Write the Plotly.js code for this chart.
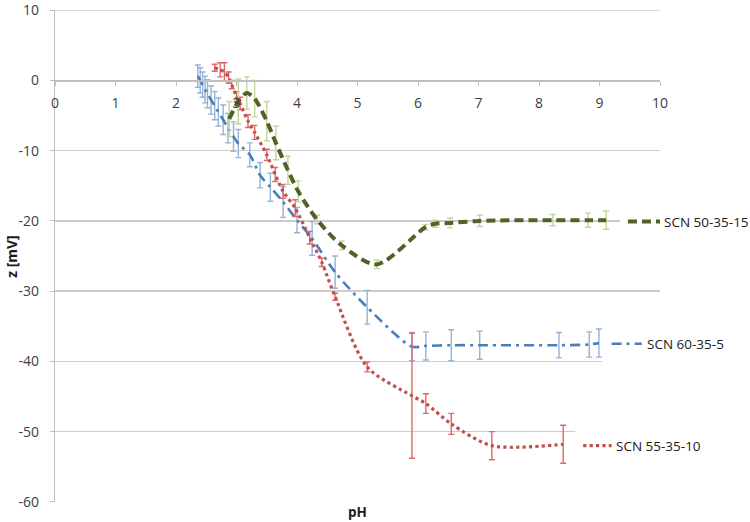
<!DOCTYPE html>
<html>
<head>
<meta charset="utf-8">
<script src="https://cdn.plot.ly/plotly-3.0.1.min.js"></script>
<style>
  html, body { margin: 0; padding: 0; background: #fff; }
  #plot { width: 750px; height: 522px; }
</style>
</head>
<body>
<div id="plot"></div>
<script>
// series names (data labels at line ends)
const seriesNames = ["SCN 50-35-15", "SCN 60-35-5", "SCN 55-35-10"];

// SCN 50-35-15 (green, dashed)
const phGreen  = [2.88, 3.03, 3.17, 3.30, 3.50, 3.65, 3.85, 4.02, 4.33, 4.74, 5.32, 6.12, 6.28, 6.53, 7.02, 8.23, 8.81, 9.11];
const zGreen   = [-5.5, -3.0, -1.8, -2.6, -5.8, -8.9, -12.8, -15.8, -19.8, -23.5, -26.2, -20.9, -20.4, -20.3, -20.0, -19.9, -19.9, -19.9];
const errGreen = [2.5, 3.2, 2.3, 2.6, 2.8, 2.4, 2.0, 1.5, 0.6, 0.6, 0.6, 0.4, 0.5, 0.7, 0.8, 0.8, 1.0, 1.3];

// SCN 60-35-5 (blue, dash-dot)
const phBlue  = [2.36, 2.40, 2.44, 2.48, 2.52, 2.58, 2.64, 2.70, 2.78, 2.86, 2.95, 3.03, 3.22, 3.39, 3.56, 3.77, 4.00, 4.25, 4.63, 5.16, 5.90, 6.13, 6.55, 7.02, 8.33, 8.83, 8.99];
const zBlue   = [0.6, 0.0, -0.6, -1.3, -1.9, -2.8, -3.6, -4.5, -5.6, -6.8, -8.0, -9.0, -10.6, -13.5, -15.2, -17.3, -19.9, -22.5, -27.3, -32.3, -37.9, -37.8, -37.7, -37.7, -37.7, -37.6, -37.4];
const errBlue = [1.6, 1.8, 1.8, 1.9, 2.0, 2.0, 2.0, 2.0, 2.1, 2.1, 2.1, 2.0, 1.7, 1.8, 2.0, 2.2, 1.8, 2.4, 2.3, 2.4, 2.0, 2.0, 2.2, 2.0, 1.8, 1.8, 2.0];

// SCN 55-35-10 (red, dotted)
const phRed  = [2.64, 2.73, 2.80, 2.87, 2.92, 3.00, 3.06, 3.19, 3.30, 3.50, 3.64, 3.77, 3.97, 4.21, 4.41, 4.63, 5.16, 5.90, 6.13, 6.55, 7.22, 8.40];
const zRed   = [1.8, 1.5, 1.2, 0.4, -0.6, -2.3, -3.3, -5.8, -7.4, -10.6, -13.4, -15.8, -18.2, -22.4, -25.9, -30.8, -40.8, -44.9, -46.0, -48.9, -52.0, -51.8];
const errRed = [0.5, 1.0, 1.3, 0.8, 0.6, 0.7, 0.9, 0.9, 1.0, 0.8, 1.0, 1.0, 1.2, 0.9, 0.6, 0.5, 0.7, 8.9, 1.4, 1.5, 2.0, 2.7];

// legend-key stubs drawn in front of each data label
const keyXGreen = [9.47, 10.0], keyYGreen = [-20.1, -20.1];
const keyXBlue  = [9.20, 9.70], keyYBlue  = [-37.5, -37.5];
const keyXRed   = [8.73, 9.20], keyYRed   = [-52.0, -52.0];
const labelX = [10.03, 9.75, 9.24];
const labelY = [-20.1, -37.5, -52.0];

const yTicks = [10, 0, -10, -20, -30, -40, -50, -60];
const xTicks = [0, 1, 2, 3, 4, 5, 6, 7, 8, 9, 10];

const X_RANGE = [0, 10];
const Y_RANGE = [-60.02, 10.02];

const GREEN = "#4f6228", GREEN_ERR = "#c3d69b";
const BLUE = "#4a7ebb",  BLUE_ERR = "#95b3d7";
const RED = "#c0504d",   RED_ERR = "#e26866";
const GRID = "#cccccc";
const FONT = "Open Sans, Liberation Sans, sans-serif";

function series(x, y, err, color, errColor, width, dash){
  return {
    type: "scatter", mode: "lines",
    x: x, y: y,
    line: { color: color, width: width, dash: dash, shape: "spline", smoothing: 0.8 },
    error_y: { type: "data", array: err, visible: true, color: errColor, thickness: 1.4, width: 3 },
    hoverinfo: "skip"
  };
}
function key(x, y, color, width, dash){
  return {
    type: "scatter", mode: "lines", x: x, y: y,
    line: { color: color, width: width, dash: dash }, hoverinfo: "skip"
  };
}

const traces = [
  series(phBlue, zBlue, errBlue, BLUE, BLUE_ERR, 2.6, "10px,5px,3px,5px"),
  series(phRed, zRed, errRed, RED, RED_ERR, 3.2, "dot"),
  series(phGreen, zGreen, errGreen, GREEN, GREEN_ERR, 4, "9px,5px"),
  key(keyXGreen, keyYGreen, GREEN, 4, "9px,5px"),
  key(keyXBlue, keyYBlue, BLUE, 2.6, "10px,5px,3px,5px"),
  key(keyXRed, keyYRed, RED, 3.2, "dot")
];

// data labels: paper coords so the text may run past the right edge
const toPaperX = v => (v - X_RANGE[0]) / (X_RANGE[1] - X_RANGE[0]);
const annotations = seriesNames.map((t, i) => ({
  text: t, x: toPaperX(labelX[i]), y: labelY[i], xref: "paper", yref: "y",
  xanchor: "left", yanchor: "middle", showarrow: false,
  font: { family: FONT, size: 13.5, color: "#1a1a1a" }
}));
annotations.push({
  text: "<b>pH</b>", xref: "paper", yref: "paper", x: 0.5, y: -0.021,
  xanchor: "center", yanchor: "middle", showarrow: false,
  font: { family: FONT, size: 13.5, color: "#1a1a1a" }
});
annotations.push({
  text: "<b>z [mV]</b>", xref: "paper", yref: "paper", x: -0.073, y: 0.5,
  xanchor: "center", yanchor: "middle", textangle: -90, showarrow: false,
  font: { family: FONT, size: 14, color: "#1a1a1a" }
});

// white label boxes hide the gridlines behind the data labels
const shapes = [
  [9.34, -16.5, -23.5],
  [9.04, -34.5, -41.0],
  [8.60, -48.5, -55.5]
].map(b => ({
  type: "rect", xref: "x", yref: "y", x0: b[0], x1: 10.5, y0: b[1], y1: b[2],
  fillcolor: "#ffffff", line: { width: 0 }, layer: "between"
}));
// top gridline (plotly drops the grid line sitting on the range edge)
shapes.push({
  type: "line", xref: "paper", x0: 0, x1: 1, yref: "y", y0: yTicks[0], y1: yTicks[0],
  line: { color: GRID, width: 1.3 }, layer: "between"
});

const layout = {
  width: 750, height: 522,
  margin: { l: 55, r: 90, t: 10, b: 20 },
  paper_bgcolor: "#fff", plot_bgcolor: "#fff",
  showlegend: false,
  font: { family: FONT, size: 13, color: "#404040" },
  xaxis: {
    range: X_RANGE, tickvals: xTicks, ticktext: xTicks.map(String),
    anchor: "free", position: (0 - Y_RANGE[0]) / (Y_RANGE[1] - Y_RANGE[0]),
    showgrid: false, zeroline: false,
    showline: true, linecolor: "#bfbfbf", linewidth: 1.3,
    ticks: "outside", ticklen: 4, tickcolor: "#bfbfbf",
    ticklabelstandoff: 6,
    tickfont: { size: 14, color: "#404040" }
  },
  yaxis: {
    range: Y_RANGE, tickvals: yTicks, ticktext: yTicks.map(String),
    showgrid: true, gridcolor: GRID, gridwidth: 1.3,
    zeroline: false,
    showline: true, linecolor: "#bfbfbf", linewidth: 1.3,
    ticks: "outside", ticklen: 4, tickcolor: "#bfbfbf",
    ticklabelstandoff: 8, ticklabeloverflow: "allow",
    tickfont: { size: 14, color: "#404040" }
  },
  shapes: shapes,
  annotations: annotations
};

Plotly.newPlot("plot", traces, layout, { staticPlot: true });
</script>
</body>
</html>
